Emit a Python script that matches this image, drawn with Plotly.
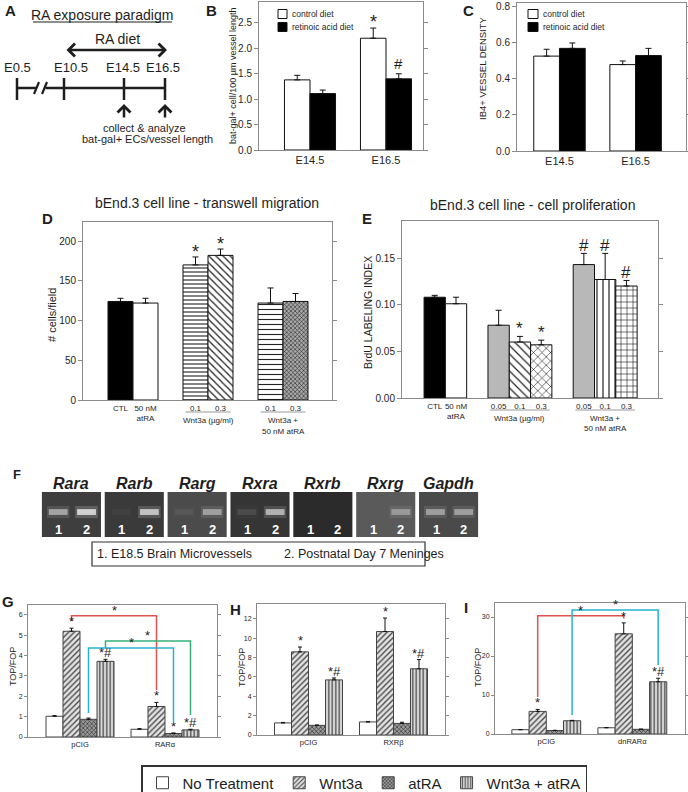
import plotly.graph_objects as go

W, H = 688, 792
FONT = "Liberation Sans, Arial, Helvetica, sans-serif"
INK = "#1e1e1e"
FRAME = "#8a8a8a"


def fx(x):
    return x / W


def fy(y):
    return 1 - y / H


# ------------------------------------------------------------------ data
# A: exposure paradigm
paradigm_stages = ["E0.5", "E10.5", "E14.5", "E16.5"]

# B: bat-gal+ cells / 100 um vessel length
diet_stages = ["E14.5", "E16.5"]
b_control = [1.38, 2.20]
b_control_top = [1.47, 2.40]
b_retinoic = [1.11, 1.40]
b_retinoic_top = [1.18, 1.50]
b_control_marks = ["", "*"]
b_retinoic_marks = ["", "#"]
b_yticks = [0.0, 0.5, 1.0, 1.5, 2.0, 2.5]

# C: IB4+ vessel density
c_control = [0.527, 0.480]
c_control_top = [0.565, 0.500]
c_retinoic = [0.570, 0.530]
c_retinoic_top = [0.600, 0.570]
c_yticks = [0.0, 0.2, 0.4, 0.6, 0.8]

# D: transwell migration
d_ticks = ["CTL", "50 nM<br>atRA", "0.1", "0.3", "0.1", "0.3"]
d_values = [124, 122, 170, 182, 122, 124]
d_tops = [128, 128, 180, 190, 141, 134]
d_marks = ["", "", "*", "*", "", ""]
d_yticks = [0, 50, 100, 150, 200]

# E: cell proliferation
e_ticks = ["CTL", "50 nM<br>atRA", "0.05", "0.1", "0.3", "0.05", "0.1", "0.3"]
e_values = [0.108, 0.101, 0.078, 0.060, 0.057, 0.143, 0.127, 0.120]
e_tops = [0.110, 0.108, 0.094, 0.066, 0.062, 0.155, 0.155, 0.126]
e_marks = ["", "", "", "*", "*", "#", "#", "#"]
e_yticks = [0.00, 0.05, 0.10, 0.15]

# F: RT-PCR gels
genes = ["Rara", "Rarb", "Rarg", "Rxra", "Rxrb", "Rxrg", "Gapdh"]
lane1_band = [0.62, 0.04, 0.08, 0.12, 0.0, 0.0, 0.55]
lane2_band = [0.95, 0.85, 0.55, 0.75, 0.0, 0.45, 0.55]
lane_names = ["1. E18.5 Brain Microvessels", "2. Postnatal Day 7 Meninges"]

# G-I: TOP/FOP reporter
treatments = ["No Treatment", "Wnt3a", "atRA", "Wnt3a + atRA"]
g_groups = ["pCIG", "RARα"]
g_no_treatment = [1.02, 0.38]
g_no_treatment_top = [1.05, 0.41]
g_wnt3a = [5.20, 1.50]
g_wnt3a_top = [5.35, 1.70]
g_atra = [0.87, 0.17]
g_atra_top = [0.93, 0.20]
g_combo = [3.72, 0.35]
g_combo_top = [3.82, 0.38]
g_marks = [["", ""], ["*", "*"], ["", "*"], ["*#", "*#"]]
g_yticks = [0, 1, 2, 3, 4, 5, 6]

h_groups = ["pCIG", "RXRβ"]
h_no_treatment = [1.25, 1.35]
h_no_treatment_top = [1.30, 1.38]
h_wnt3a = [8.60, 10.70]
h_wnt3a_top = [9.10, 12.10]
h_atra = [1.00, 1.20]
h_atra_top = [1.03, 1.32]
h_combo = [5.70, 6.85]
h_combo_top = [5.90, 7.80]
h_marks = [["", ""], ["*", "*"], ["", ""], ["*#", "*#"]]
h_yticks = [0, 2, 4, 6, 8, 10, 12]

i_groups = ["pCIG", "dnRARα"]
i_no_treatment = [1.10, 1.60]
i_no_treatment_top = [1.15, 1.65]
i_wnt3a = [5.80, 25.70]
i_wnt3a_top = [6.30, 28.50]
i_atra = [0.90, 1.20]
i_atra_top = [0.95, 1.25]
i_combo = [3.40, 13.40]
i_combo_top = [3.50, 14.30]
i_marks = [["", ""], ["*", "*"], ["", ""], ["", "*#"]]
i_yticks = [0, 10, 20, 30]

# significance brackets: (from bar slot, to bar slot, level, left end, right end)
g_brackets = [(1, 6, 5.96, 5.70, 2.31), (3, 8, 4.72, 4.38, 1.08), (2, 7, 4.38, 1.18, 0.74)]
i_brackets = [(1, 6, 30.3, 9.5, 29.6), (3, 8, 31.8, 4.9, 17.7)]

# ------------------------------------------------------------------ figure
fig = go.Figure()
shapes = []
annotations = []
layout = dict(
    width=W, height=H, margin=dict(l=0, r=0, t=0, b=0, autoexpand=False),
    paper_bgcolor="white", plot_bgcolor="white", barmode="overlay",
    font=dict(family=FONT, color=INK), showlegend=True,
)


def ann(x, y, text, size=10, xref="paper", yref="paper", **kw):
    d = dict(x=x, y=y, text=text, xref=xref, yref=yref, showarrow=False,
             xanchor="center", yanchor="middle",
             font=dict(family=FONT, size=size, color=kw.pop("color", INK)))
    d.update(kw)
    annotations.append(d)


def set_axes(n, xpx, ypx, xr, yr, xtickvals=None, xticktext=None, xfont=10,
             ytickvals=None, yfont=10, yfmt=None, visible=True):
    xk = "xaxis" if n == 1 else f"xaxis{n}"
    yk = "yaxis" if n == 1 else f"yaxis{n}"
    ya = "y" if n == 1 else f"y{n}"
    xa = "x" if n == 1 else f"x{n}"
    xd = dict(domain=[fx(xpx[0]), fx(xpx[1])], range=xr, anchor=ya, automargin=False,
              showgrid=False, zeroline=False, fixedrange=True)
    yd = dict(domain=[fy(ypx[1]), fy(ypx[0])], range=yr, anchor=xa, automargin=False,
              showgrid=False, zeroline=False, fixedrange=True)
    if not visible:
        xd["visible"] = False
        yd["visible"] = False
    else:
        xd.update(showline=True, linecolor=FRAME, linewidth=1, mirror=True, ticks="",
                  tickvals=xtickvals, ticktext=xticktext,
                  tickfont=dict(size=xfont, family=FONT, color=INK))
        yd.update(showline=True, linecolor=FRAME, linewidth=1, mirror="ticks",
                  ticks="outside", ticklen=4, tickcolor=FRAME,
                  tickvals=ytickvals, tickfont=dict(size=yfont, family=FONT, color=INK))
        if yfmt:
            yd["tickformat"] = yfmt
    layout[xk] = xd
    layout[yk] = yd
    return xa, ya


def bars(xa, ya, xs, ys, tops, width, color, pattern=None, name=None,
         showlegend=False, line_color="#111", cap=3):
    err = [t - v for t, v in zip(tops, ys)]
    marker = dict(color=color, line=dict(color=line_color, width=1))
    if pattern is not None:
        marker["pattern"] = pattern
    fig.add_trace(go.Bar(
        x=xs, y=ys, width=width, xaxis=xa, yaxis=ya, marker=marker,
        error_y=dict(type="data", symmetric=False, array=err, arrayminus=[0] * len(err),
                     color="#111", thickness=1, width=cap),
        name=name, showlegend=showlegend, legendgroup=name,
        hoverinfo="x+y"))


def styled_bars(xa, ya, xs, ys, tops, styles, cap=3):
    # one trace per bar so each bar can carry its own fill pattern
    for x, v, t, st in zip(xs, ys, tops, styles):
        fill, shape, fg, size, sol = st
        pat = None
        if shape:
            pat = dict(shape=shape, bgcolor=fill, fgcolor=fg, size=size, solidity=sol,
                       fillmode="replace")
        bars(xa, ya, [x], [v], [t], 1, fill if not shape else fg, pattern=pat, cap=cap)


def marks(xa, ya, xs, tops, labels, size=17, shift=-4):
    for x, t, m in zip(xs, tops, labels):
        if m:
            ann(x, t, m, size=size, xref=xa, yref=ya, yanchor="bottom", yshift=shift)


# ---------------- panel A (schematic)
xa, ya = set_axes(1, (0, 240), (0, 160), [0, 240], [160, 0], visible=False)
tick_px = [17, 64, 124, 165]
label_px = [17, 71, 123, 163]
shapes.append(dict(type="line", xref=xa, yref=ya, x0=17, x1=165, y0=88, y1=88,
                   line=dict(color=INK, width=2.5)))
for t in tick_px:
    shapes.append(dict(type="line", xref=xa, yref=ya, x0=t, x1=t, y0=78, y1=100,
                       line=dict(color=INK, width=2.5)))
shapes.append(dict(type="rect", xref=xa, yref=ya, x0=36.5, x1=45.5, y0=84, y1=92,
                   fillcolor="white", line=dict(width=0)))
for s in (34, 42):
    shapes.append(dict(type="line", xref=xa, yref=ya, x0=s, x1=s + 5, y0=94, y1=82,
                       line=dict(color=INK, width=2.2)))
for lbl, lx in zip(paradigm_stages, label_px):
    ann(lx, 67, lbl, size=13, xref=xa, yref=ya)
ann(102, 15, "RA exposure paradigm", size=14, xref=xa, yref=ya)
shapes.append(dict(type="line", xref=xa, yref=ya, x0=33, x1=172, y0=22, y1=22,
                   line=dict(color=INK, width=1)))
ann(117, 39, "RA diet", size=14, xref=xa, yref=ya)
annotations.append(dict(x=167, y=50, ax=65, ay=50, xref=xa, yref=ya, axref=xa, ayref=ya,
                        showarrow=True, arrowhead=4, arrowside="end+start", arrowsize=1,
                        arrowwidth=2.5, arrowcolor=INK, text=""))
for t in (124, 165):
    annotations.append(dict(x=t, y=104, ax=t, ay=119, xref=xa, yref=ya, axref=xa, ayref=ya,
                            showarrow=True, arrowhead=4, arrowsize=1, arrowwidth=2.5,
                            arrowcolor=INK, text=""))
ann(144, 128, "collect &amp; analyze", size=11, xref=xa, yref=ya)
ann(147, 139, "bat-gal+ ECs/vessel length", size=11, xref=xa, yref=ya)

# ---------------- panel B
xa, ya = set_axes(2, (259, 423), (2, 150), [-0.671, 1.487], [0, 2.913],
                  xtickvals=[0, 1], xticktext=diet_stages, xfont=11,
                  ytickvals=b_yticks, yfont=10, yfmt=".1f")
bw = 0.336
xs_c = [i - bw / 2 for i in range(2)]
xs_r = [i + bw / 2 for i in range(2)]
bars(xa, ya, xs_c, b_control, b_control_top, bw, "white")
bars(xa, ya, xs_r, b_retinoic, b_retinoic_top, bw, "black")
marks(xa, ya, xs_c, b_control_top, b_control_marks, size=18, shift=-6)
marks(xa, ya, xs_r, b_retinoic_top, b_retinoic_marks, size=15, shift=0)
for yy, col, lbl in ((14, "white", "control diet"), (27, "black", "retinoic acid diet")):
    shapes.append(dict(type="rect", xref="paper", yref="paper", x0=fx(278), x1=fx(287),
                       y0=fy(yy + 4.5), y1=fy(yy - 4.5), fillcolor=col,
                       line=dict(color="#111", width=1)))
    ann(fx(290), fy(yy), lbl, size=8.5, xanchor="left")
ann(fx(233), fy(76), "bat-gal+ cell/100 µm vessel length", size=9, textangle=-90)

# ---------------- panel C
xa, ya = set_axes(3, (517, 686), (3, 151), [-0.558, 1.662], [0, 0.822],
                  xtickvals=[0, 1], xticktext=diet_stages, xfont=11,
                  ytickvals=c_yticks, yfont=10, yfmt=".1f")
cw = 0.338
xs_c = [i - cw / 2 for i in range(2)]
xs_r = [i + cw / 2 for i in range(2)]
bars(xa, ya, xs_c, c_control, c_control_top, cw, "white")
bars(xa, ya, xs_r, c_retinoic, c_retinoic_top, cw, "black")
for yy, col, lbl in ((14, "white", "control diet"), (27, "black", "retinoic acid diet")):
    shapes.append(dict(type="rect", xref="paper", yref="paper", x0=fx(528), x1=fx(538),
                       y0=fy(yy + 4.5), y1=fy(yy - 4.5), fillcolor=col,
                       line=dict(color="#111", width=1)))
    ann(fx(541), fy(yy), lbl, size=8.5, xanchor="left")
ann(fx(482), fy(68), "IB4+ VESSEL DENSITY", size=9.5, textangle=-90)

# ---------------- panel D
d_slots = [0, 1, 3, 4, 6, 7]
xa, ya = set_axes(4, (83, 332), (222, 400), [-1.5, 8.46], [0, 224],
                  xtickvals=d_slots, xticktext=d_ticks, xfont=8,
                  ytickvals=d_yticks, yfont=10)
# (fill, pattern shape, pattern colour, pattern size, solidity)
d_styles = [("black", "", None, 0, 0), ("white", "", None, 0, 0),
            ("white", "-", "#222", 4, 0.28), ("white", "\\", "#222", 5, 0.25),
            ("white", "-", "#222", 5, 0.22), ("#a8a8a8", "x", "#222", 3, 0.35)]
styled_bars(xa, ya, d_slots, d_values, d_tops, d_styles)
marks(xa, ya, d_slots, d_tops, d_marks, size=18, shift=-7)
ann(fx(207), fy(203), "bEnd.3 cell line - transwell migration", size=14)
ann(fx(52), fy(315), "# cells/field", size=11, textangle=-90)
for x0, x1, lines in ((2.5, 4.5, ["Wnt3a (µg/ml)"]), (5.5, 7.5, ["Wnt3a +", "50 nM atRA"])):
    shapes.append(dict(type="line", xref=xa, yref="paper", x0=x0 + 0.1, x1=x1 - 0.1,
                       y0=fy(412), y1=fy(412), line=dict(color="#999", width=1)))
    for k, t in enumerate(lines):
        ann((x0 + x1) / 2, fy(420 + 11 * k), t, size=8, xref=xa)

# ---------------- panel E
e_slots = [0, 1, 3, 4, 5, 7, 8, 9]
xa, ya = set_axes(5, (402, 658), (221, 398), [-1.535, 10.48], [0, 0.1897],
                  xtickvals=e_slots, xticktext=e_ticks, xfont=8,
                  ytickvals=e_yticks, yfont=10, yfmt=".2f")
e_styles = [("black", "", None, 0, 0), ("white", "", None, 0, 0),
            ("#b8b8b8", "", None, 0, 0), ("white", "\\", "#222", 6, 0.2),
            ("white", "x", "#222", 6, 0.2), ("#b8b8b8", "", None, 0, 0),
            ("white", "|", "#222", 6, 0.2), ("white", "+", "#222", 6, 0.2)]
styled_bars(xa, ya, e_slots, e_values, e_tops, e_styles)
marks(xa, ya, e_slots, e_tops, e_marks, size=17, shift=-4)
ann(fx(532), fy(205), "bEnd.3 cell line - cell proliferation", size=14)
ann(fx(368), fy(312), "BrdU LABELING INDEX", size=10.5, textangle=-90)
for x0, x1, lines in ((2.5, 5.5, ["Wnt3a (µg/ml)"]), (6.5, 9.5, ["Wnt3a +", "50 nM atRA"])):
    shapes.append(dict(type="line", xref=xa, yref="paper", x0=x0 + 0.1, x1=x1 - 0.1,
                       y0=fy(410), y1=fy(410), line=dict(color="#999", width=1)))
    for k, t in enumerate(lines):
        ann((x0 + x1) / 2, fy(418 + 11 * k), t, size=8, xref=xa)

# ---------------- panel F (gels)
xa, ya = set_axes(6, (40, 480), (492, 537), [-0.5, 6.5], [0, 1], visible=False)
gel_bg = ["#3e3e3e", "#3a3a3a", "#4b4b4b", "#353535", "#2b2b2b", "#5a5a5a", "#4a4a4a"]
for i, g in enumerate(genes):
    shapes.append(dict(type="rect", xref=xa, yref=ya, x0=i - 0.47, x1=i + 0.47, y0=0, y1=1,
                       fillcolor=gel_bg[i], line=dict(width=0), layer="below"))
    for lc, inten in ((i - 0.21, lane1_band[i]), (i + 0.24, lane2_band[i])):
        if inten > 0:
            shapes.append(dict(type="rect", xref=xa, yref=ya, x0=lc - 0.18, x1=lc + 0.18,
                               y0=0.42, y1=0.69, fillcolor=f"rgba(255,255,255,{inten * 0.18:.3f})",
                               line=dict(width=0)))
            shapes.append(dict(type="rect", xref=xa, yref=ya, x0=lc - 0.15, x1=lc + 0.15,
                               y0=0.49, y1=0.62, fillcolor=f"rgba(255,255,255,{inten * 0.75:.3f})",
                               line=dict(width=0)))
    ann(i - 0.2, 0.17, "<b>1</b>", size=13, xref=xa, yref=ya, color="white")
    ann(i + 0.24, 0.17, "<b>2</b>", size=13, xref=xa, yref=ya, color="white")
    ann(i, fy(483), f"<b><i>{g}</i></b>", size=16, xref=xa, yref="paper")
shapes.append(dict(type="rect", xref="paper", yref="paper", x0=fx(92), x1=fx(425),
                   y0=fy(566), y1=fy(542), line=dict(color="#333", width=1.2),
                   fillcolor="rgba(0,0,0,0)"))
ann(fx(95), fy(554), lane_names[0], size=12.5, xanchor="left")
ann(fx(282), fy(554), lane_names[1], size=12.5, xanchor="left")

# ---------------- panels G-I
tr_fill = ["white", "#e4e4e4", "#9a9a9a", "#d6d6d6"]
tr_pattern = [
    None,
    dict(shape="/", bgcolor="#e4e4e4", fgcolor="#4a4a4a", size=4, solidity=0.35, fillmode="replace"),
    dict(shape="x", bgcolor="#9a9a9a", fgcolor="#333333", size=3, solidity=0.4, fillmode="replace"),
    dict(shape="|", bgcolor="#dadada", fgcolor="#555555", size=3.5, solidity=0.4, fillmode="replace"),
]


def reporter_panel(n, xpx, ypx, xr, yr, groups, series, marklists, yticks, brackets, first):
    xa, ya = set_axes(n, xpx, ypx, xr, yr, xtickvals=[1.5, 6.5], xticktext=groups, xfont=7.5,
                      ytickvals=yticks, yfont=7)
    layout[f"yaxis{n}"]["ticklen"] = 3
    for t, (vals, tops) in enumerate(series):
        xs = [5 * g + t for g in range(len(vals))]
        bars(xa, ya, xs, vals, tops, 1, tr_fill[t], pattern=tr_pattern[t],
             name=treatments[t], showlegend=first, line_color="#444", cap=2)
        marks(xa, ya, xs, tops, marklists[t], size=13, shift=-3)
    colors = ["#e0524f", "#36b07a", "#26b3d3"] if n == 7 else ["#e0524f", "#26b3d3"]
    for (a, b, lev, le, re), col in zip(brackets, colors):
        fig.add_trace(go.Scatter(x=[a, a, b, b], y=[le, lev, lev, re], mode="lines",
                                 line=dict(color=col, width=1.5), xaxis=xa, yaxis=ya,
                                 showlegend=False, hoverinfo="skip"))
        ann((a + b) / 2, lev, "*", size=13, xref=xa, yref=ya, yanchor="bottom", yshift=-4)
    return xa, ya


reporter_panel(7, (28, 217), (605, 737), [-1.56, 9.56], [0, 6.49], g_groups,
               [(g_no_treatment, g_no_treatment_top), (g_wnt3a, g_wnt3a_top),
                (g_atra, g_atra_top), (g_combo, g_combo_top)],
               g_marks, g_yticks, g_brackets, True)
reporter_panel(8, (257, 445), (604, 735), [-1.53, 9.53], [0, 13.55], h_groups,
               [(h_no_treatment, h_no_treatment_top), (h_wnt3a, h_wnt3a_top),
                (h_atra, h_atra_top), (h_combo, h_combo_top)],
               h_marks, h_yticks, [], False)
reporter_panel(9, (495, 685), (603, 734), [-1.48, 9.56], [0, 33.6], i_groups,
               [(i_no_treatment, i_no_treatment_top), (i_wnt3a, i_wnt3a_top),
                (i_atra, i_atra_top), (i_combo, i_combo_top)],
               i_marks, i_yticks, i_brackets, False)
ann(fx(13), fy(667), "TOP/FOP", size=9, textangle=-90)
ann(fx(242), fy(668), "TOP/FOP", size=9, textangle=-90)
ann(fx(478), fy(668), "TOP/FOP", size=9, textangle=-90)

# ---------------- panel letters
for letter, x, y in (("A", 10, 10), ("B", 211, 11), ("C", 468, 10), ("D", 47, 218),
                     ("E", 367, 218), ("F", 17, 475), ("G", 8, 601), ("H", 235, 609),
                     ("I", 466, 607)):
    ann(fx(x), fy(y), f"<b>{letter}</b>", size=15 if letter != "F" else 13)

layout["legend"] = dict(orientation="h", x=fx(141), y=fy(765), xanchor="left", yanchor="top",
                        bordercolor="#333", borderwidth=1.5, bgcolor="white",
                        font=dict(family=FONT, size=15, color=INK), traceorder="normal",
                        itemclick=False, itemdoubleclick=False, tracegroupgap=0)
layout["shapes"] = shapes
layout["annotations"] = annotations
fig.update_layout(**layout)
fig.write_html("out.html", config={"displayModeBar": False, "staticPlot": False},
               post_script="document.body.style.margin='0';document.body.style.overflow='hidden';")
